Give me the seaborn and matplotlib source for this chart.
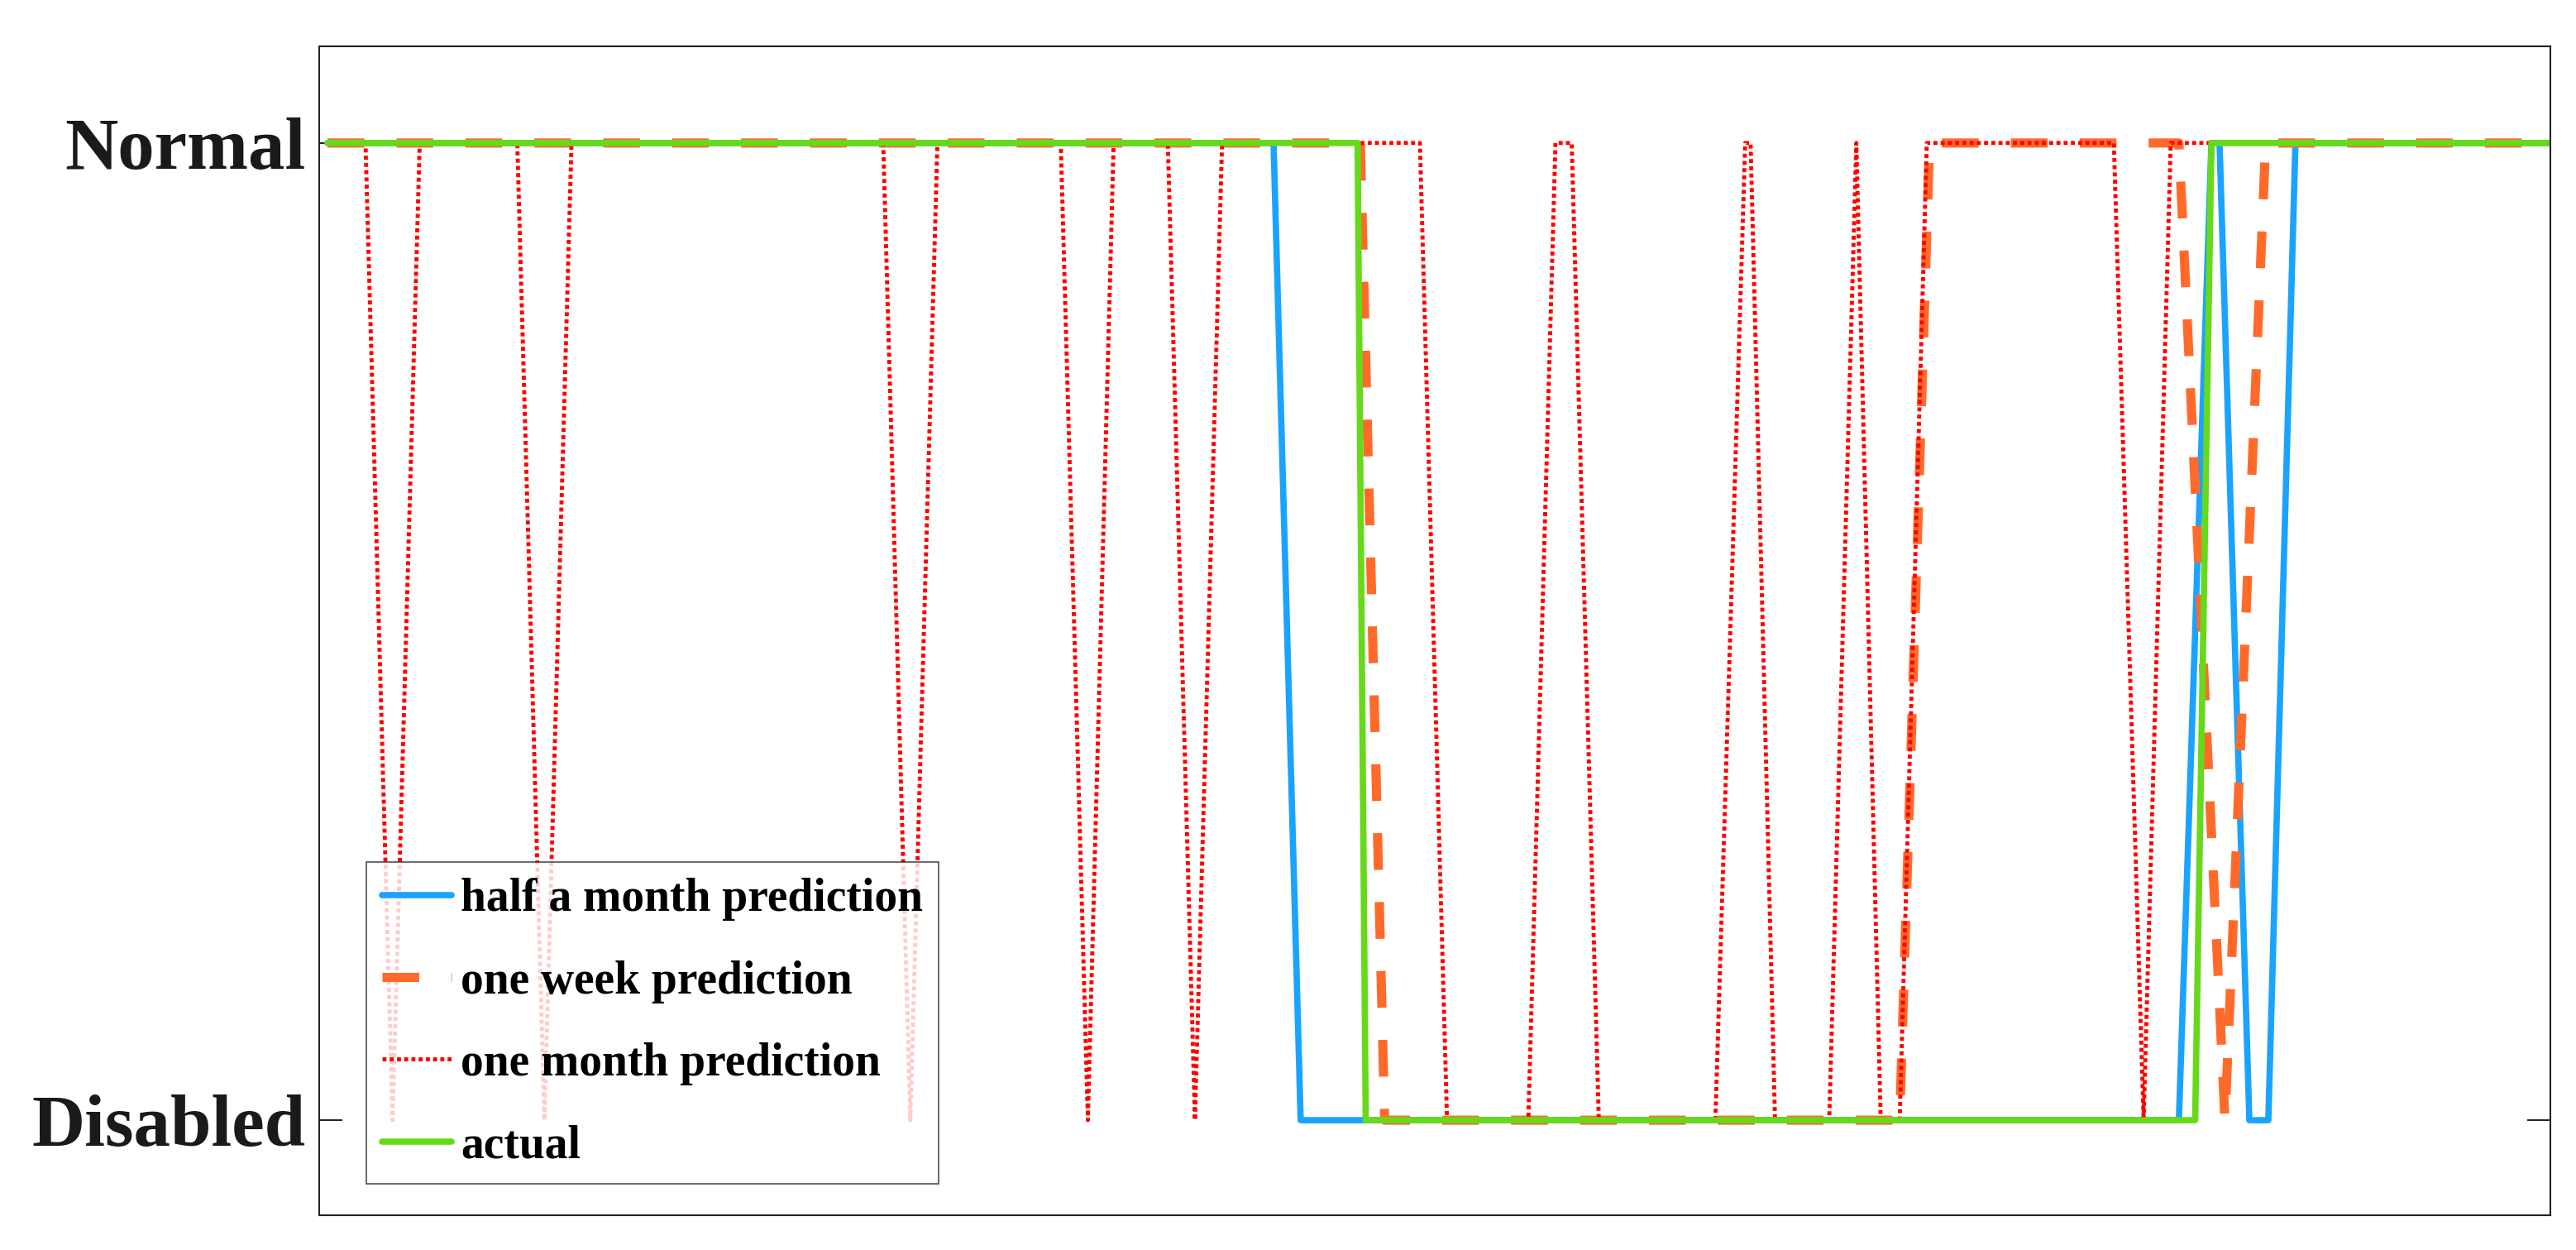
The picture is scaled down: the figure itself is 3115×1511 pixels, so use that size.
import numpy as np
import pandas as pd
import matplotlib
matplotlib.use("Agg")
import matplotlib.pyplot as plt
import seaborn as sns

# === DATOS (0 = Disabled, 1 = Normal) ===
half_x = [0, 34.9, 35.9, 68.3, 69.5, 69.8, 70.9, 71.6, 72.6, 82]
half_y = [1, 1, 0, 0, 1, 1, 0, 0, 1, 1]

week_x = [0, 38.1, 39.0, 58.0, 59.1, 68.3, 70.0, 71.5, 82]
week_y = [1, 1, 0, 0, 1, 1, 0, 1, 1]

month_x = [0, 1.4, 2.4, 3.4, 7.0, 8.0, 9.0, 20.5, 21.5, 22.5, 27.05, 28.05, 29.0,
           31.0, 32.0, 33.0, 40.3, 41.3, 44.3, 45.3, 45.9, 46.9, 51.2, 52.3, 52.5,
           53.4, 55.4, 56.4, 57.3, 58.0, 59.0, 65.9, 67.0, 68.0, 82]
month_y = [1, 1, 0, 1, 1, 0, 1, 1, 0, 1, 1, 0, 1,
           1, 0, 1, 1, 0, 0, 1, 1, 0, 0, 1, 1,
           0, 0, 1, 0, 0, 1, 1, 0, 1, 1]

actual_x = [0, 38.0, 38.3, 68.9, 69.5, 82]
actual_y = [1, 1, 0, 0, 1, 1]

sns.set_theme(style="white")
plt.rcParams["font.family"] = ["Liberation Serif", "DejaVu Serif"]
plt.rcParams["font.weight"] = "bold"

fig = plt.figure(figsize=(31.15, 15.11), dpi=100)
ax = fig.add_axes([0.124, 0.028, 0.866, 0.935])

sns.lineplot(x=half_x, y=half_y, ax=ax, color="#1AA3FF", linewidth=5.5,
             estimator=None, sort=False, label="half a month prediction")
sns.lineplot(x=week_x, y=week_y, ax=ax, color="#FF6A2A", linewidth=8,
             estimator=None, sort=False, label="one week prediction")
ax.lines[-1].set_dashes([4, 3.5])
sns.lineplot(x=month_x, y=month_y, ax=ax, color="#FF0000", linewidth=3.5,
             estimator=None, sort=False, label="one month prediction")
ax.lines[-1].set_dashes([1, 0.8])
sns.lineplot(x=actual_x, y=actual_y, ax=ax, color="#66D91A", linewidth=5.5,
             estimator=None, sort=False, label="actual")

ax.set_xlim(-0.3, 82)
ax.set_ylim(-0.097, 1.099)
ax.set_xticks([])
ax.set_yticks([0, 1])
ax.set_yticklabels(["Disabled", "Normal"], fontsize=64, fontweight="bold", color="#1a1a1a")
ax.tick_params(axis="y", direction="in", length=20, width=1.5, left=True, right=True, pad=12)
for s in ax.spines.values():
    s.set_color("#222222")
    s.set_linewidth(1.5)

leg = ax.legend(loc="lower left", bbox_to_anchor=(0.021, 0.027), fontsize=40,
                frameon=True, fancybox=False, edgecolor="#222222", handlelength=1.5,
                handletextpad=0.2, borderpad=0.35, labelspacing=0.85, borderaxespad=0)
leg.get_frame().set_linewidth(1.2)
for t in leg.get_texts():
    t.set_fontweight("bold")
    t.set_color("black")

fig.savefig("out.png", dpi=100)
